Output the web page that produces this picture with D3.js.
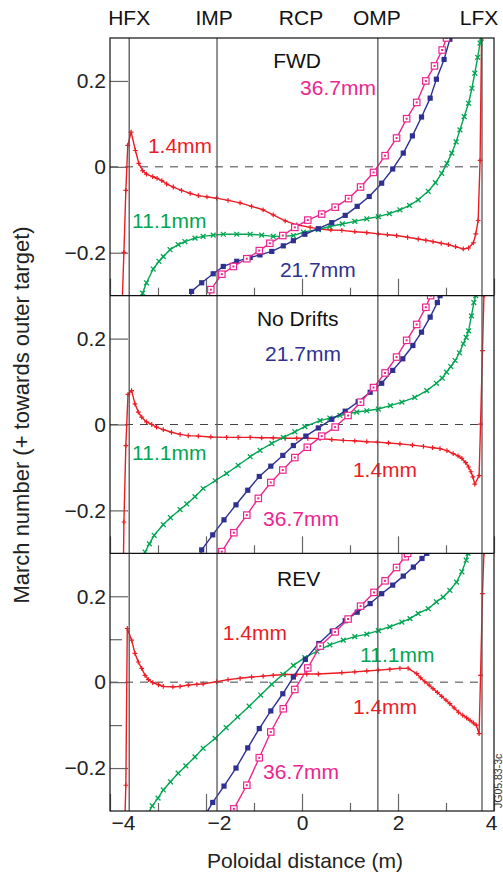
<!DOCTYPE html>
<html>
<head>
<meta charset="utf-8">
<script src="https://cdn.jsdelivr.net/npm/d3@7"></script>
<style>
  body { margin: 0; background: #fff; }
  svg { font-family: 'Liberation Sans', Arial, Helvetica, sans-serif; }
</style>
</head>
<body>
<div class="chart-container"></div>
<script>
// Data: [poloidal distance (m), Mach number].
const fwdRed = [[-3.75,-0.33],[-3.71,-0.199],[-3.67,-0.055],[-3.63,0.05],[-3.56,0.081],[-3.47,0.038],[-3.40,0.008],[-3.32,-0.009],[-3.24,-0.017],[-3.11,-0.023],[-3.02,-0.027],[-2.92,-0.032],[-2.82,-0.04],[-2.68,-0.047],[-2.51,-0.055],[-2.33,-0.062],[-2.16,-0.067],[-1.98,-0.07],[-1.78,-0.073],[-1.54,-0.078],[-1.29,-0.084],[-1.05,-0.092],[-0.81,-0.1],[-0.6,-0.112],[-0.35,-0.126],[-0.11,-0.135],[0.17,-0.141],[0.375,-0.145],[0.6,-0.147],[0.83,-0.148],[1.1,-0.151],[1.35,-0.153],[1.59,-0.156],[1.78,-0.158],[1.97,-0.16],[2.2,-0.164],[2.42,-0.168],[2.58,-0.171],[2.73,-0.174],[2.9,-0.178],[3.05,-0.181],[3.2,-0.186],[3.36,-0.191],[3.47,-0.189],[3.57,-0.177],[3.62,-0.156],[3.67,-0.125],[3.71,0.015],[3.74,0.295],[3.75,0.33]];
const fwdGreen = [[-3.36,-0.31],[-3.32,-0.294],[-3.24,-0.27],[-3.1,-0.238],[-2.98,-0.22],[-2.89,-0.209],[-2.75,-0.193],[-2.58,-0.181],[-2.44,-0.174],[-2.23,-0.166],[-2.06,-0.162],[-1.85,-0.159],[-1.64,-0.157],[-1.36,-0.157],[-1.08,-0.157],[-0.84,-0.159],[-0.6,-0.162],[-0.39,-0.162],[-0.18,-0.16],[0.03,-0.152],[0.34,-0.146],[0.58,-0.139],[0.84,-0.133],[1.1,-0.127],[1.35,-0.121],[1.59,-0.116],[1.82,-0.109],[2.04,-0.1],[2.24,-0.09],[2.42,-0.077],[2.63,-0.057],[2.78,-0.037],[2.91,-0.015],[3.02,0.008],[3.12,0.032],[3.21,0.058],[3.29,0.086],[3.38,0.117],[3.47,0.148],[3.54,0.183],[3.6,0.218],[3.66,0.255],[3.71,0.288],[3.73,0.31]];
const fwdBlue = [[-2.34,-0.31],[-2.3,-0.29],[-2.09,-0.27],[-1.85,-0.249],[-1.64,-0.232],[-1.36,-0.22],[-1.08,-0.211],[-0.875,-0.205],[-0.63,-0.197],[-0.39,-0.184],[-0.18,-0.172],[0.06,-0.157],[0.34,-0.144],[0.62,-0.13],[0.9,-0.113],[1.15,-0.092],[1.4,-0.069],[1.66,-0.038],[1.89,-0.005],[2.11,0.032],[2.3,0.072],[2.49,0.116],[2.67,0.16],[2.8,0.204],[2.96,0.25],[3.08,0.297],[3.1,0.31]];
const fwdMagenta = [[-1.95,-0.31],[-1.9,-0.286],[-1.67,-0.25],[-1.43,-0.232],[-1.15,-0.214],[-0.89,-0.195],[-0.67,-0.178],[-0.4,-0.16],[-0.15,-0.141],[0.12,-0.124],[0.41,-0.11],[0.69,-0.094],[0.97,-0.074],[1.22,-0.047],[1.49,-0.013],[1.73,0.026],[1.97,0.067],[2.18,0.112],[2.39,0.15],[2.58,0.2],[2.76,0.235],[2.92,0.272],[3.01,0.3],[3.02,0.31]];

const nodRed = [[-3.72,-0.32],[-3.71,-0.227],[-3.67,-0.049],[-3.625,0.07],[-3.55,0.079],[-3.48,0.048],[-3.41,0.029],[-3.34,0.017],[-3.24,0.006],[-3.13,0.0],[-3.03,-0.006],[-2.89,-0.012],[-2.72,-0.018],[-2.54,-0.023],[-2.37,-0.026],[-2.16,-0.027],[-1.9,-0.029],[-1.57,-0.03],[-1.33,-0.03],[-1.08,-0.03],[-0.84,-0.031],[-0.6,-0.031],[-0.35,-0.032],[-0.11,-0.032],[0.12,-0.032],[0.375,-0.033],[0.62,-0.035],[0.86,-0.037],[1.1,-0.038],[1.35,-0.04],[1.57,-0.041],[1.8,-0.043],[2.04,-0.045],[2.3,-0.048],[2.53,-0.051],[2.72,-0.054],[2.875,-0.056],[3.02,-0.061],[3.15,-0.068],[3.25,-0.073],[3.33,-0.079],[3.41,-0.089],[3.47,-0.099],[3.52,-0.11],[3.56,-0.122],[3.6,-0.139],[3.69,-0.119],[3.72,0.001],[3.76,0.172],[3.79,0.3],[3.8,0.33]];
const nodGreen = [[-3.3,-0.31],[-3.27,-0.297],[-3.18,-0.278],[-3.08,-0.258],[-2.89,-0.233],[-2.74,-0.217],[-2.54,-0.198],[-2.4,-0.185],[-2.23,-0.168],[-2.06,-0.149],[-1.81,-0.131],[-1.57,-0.114],[-1.33,-0.095],[-1.08,-0.075],[-0.875,-0.06],[-0.63,-0.044],[-0.39,-0.03],[-0.15,-0.017],[0.06,-0.005],[0.375,0.009],[0.58,0.015],[0.79,0.021],[1.14,0.029],[1.35,0.032],[1.59,0.036],[1.84,0.044],[2.08,0.052],[2.35,0.063],[2.6,0.079],[2.8,0.096],[2.92,0.108],[3.01,0.122],[3.1,0.135],[3.19,0.149],[3.28,0.167],[3.36,0.188],[3.42,0.203],[3.47,0.218],[3.53,0.253],[3.58,0.284],[3.62,0.3],[3.63,0.31]];
const nodBlue = [[-2.12,-0.31],[-2.09,-0.292],[-1.86,-0.257],[-1.625,-0.222],[-1.375,-0.187],[-1.13,-0.153],[-0.89,-0.121],[-0.65,-0.097],[-0.4,-0.072],[-0.18,-0.049],[0.08,-0.027],[0.34,-0.008],[0.62,0.012],[0.9,0.031],[1.17,0.053],[1.42,0.075],[1.66,0.096],[1.89,0.126],[2.1,0.153],[2.31,0.184],[2.49,0.215],[2.67,0.25],[2.82,0.284],[2.875,0.3],[2.9,0.31]];
const nodMagenta = [[-1.7,-0.31],[-1.67,-0.296],[-1.42,-0.252],[-1.15,-0.211],[-0.91,-0.172],[-0.65,-0.135],[-0.4,-0.106],[-0.15,-0.077],[0.11,-0.053],[0.41,-0.027],[0.69,-0.006],[0.96,0.021],[1.22,0.052],[1.49,0.086],[1.73,0.12],[1.97,0.157],[2.18,0.196],[2.39,0.233],[2.58,0.273],[2.68,0.3],[2.7,0.31]];

const revRed = [[-3.69,-0.32],[-3.67,-0.24],[-3.64,0.125],[-3.55,0.098],[-3.48,0.067],[-3.41,0.047],[-3.34,0.032],[-3.27,0.016],[-3.2,0.006],[-3.11,-0.001],[-2.99,-0.006],[-2.89,-0.01],[-2.69,-0.011],[-2.54,-0.01],[-2.37,-0.007],[-2.19,-0.005],[-2.06,-0.004],[-1.78,0.001],[-1.54,0.006],[-1.29,0.009],[-1.05,0.012],[-0.81,0.014],[-0.6,0.016],[-0.35,0.018],[-0.11,0.018],[0.1,0.019],[0.34,0.019],[0.83,0.022],[1.1,0.024],[1.35,0.026],[1.59,0.028],[1.83,0.03],[2.04,0.032],[2.21,0.032],[2.39,0.02],[2.47,0.01],[2.56,0.001],[2.65,-0.007],[2.73,-0.015],[2.82,-0.024],[2.91,-0.033],[3.0,-0.042],[3.08,-0.05],[3.17,-0.06],[3.26,-0.07],[3.35,-0.077],[3.43,-0.083],[3.5,-0.089],[3.57,-0.095],[3.63,-0.1],[3.69,-0.12],[3.72,0.016],[3.76,0.206],[3.79,0.3],[3.8,0.33]];
const revGreen = [[-3.2,-0.305],[-3.12,-0.288],[-3.0,-0.27],[-2.89,-0.251],[-2.74,-0.232],[-2.58,-0.212],[-2.42,-0.195],[-2.23,-0.174],[-2.06,-0.154],[-1.81,-0.131],[-1.58,-0.106],[-1.34,-0.081],[-1.1,-0.056],[-0.86,-0.03],[-0.63,-0.005],[-0.4,0.018],[-0.18,0.039],[0.06,0.057],[0.31,0.072],[0.58,0.087],[0.86,0.098],[1.1,0.106],[1.35,0.112],[1.59,0.12],[1.83,0.129],[2.08,0.14],[2.25,0.148],[2.42,0.16],[2.63,0.171],[2.8,0.187],[2.94,0.198],[3.08,0.214],[3.22,0.233],[3.33,0.257],[3.42,0.284],[3.46,0.3],[3.47,0.31]];
const revBlue = [[-2.02,-0.31],[-1.86,-0.28],[-1.625,-0.242],[-1.375,-0.2],[-1.13,-0.153],[-0.89,-0.108],[-0.65,-0.067],[-0.4,-0.027],[-0.18,0.012],[0.07,0.053],[0.35,0.09],[0.63,0.119],[0.9,0.143],[1.15,0.163],[1.42,0.183],[1.66,0.206],[1.89,0.226],[2.11,0.247],[2.32,0.268],[2.5,0.288],[2.6,0.3],[2.62,0.31]];
const revMagenta = [[-1.44,-0.31],[-1.42,-0.295],[-1.15,-0.24],[-0.89,-0.176],[-0.65,-0.116],[-0.39,-0.062],[-0.15,-0.017],[0.12,0.033],[0.38,0.084],[0.69,0.117],[0.96,0.147],[1.22,0.177],[1.5,0.209],[1.73,0.236],[1.97,0.267],[2.15,0.292],[2.2,0.3],[2.22,0.31]];

const panelNames = ['FWD', 'No Drifts', 'REV'];
const seriesNames = ['1.4mm', '11.1mm', '21.7mm', '36.7mm'];
const panelSeries = [
  [fwdRed, fwdGreen, fwdBlue, fwdMagenta],
  [nodRed, nodGreen, nodBlue, nodMagenta],
  [revRed, revGreen, revBlue, revMagenta]
];

// In-plot annotations: [text, series index (-1 = panel title), x (m), Mach].
const panelLabels = [
  [['FWD', -1, -0.60, 0.230], ['36.7mm', 3, -0.04, 0.167], ['1.4mm', 0, -3.21, 0.033], ['11.1mm', 1, -3.54, -0.142], ['21.7mm', 2, -0.46, -0.256]],
  [['No Drifts', -1, -0.94, 0.230], ['21.7mm', 2, -0.77, 0.148], ['11.1mm', 1, -3.54, -0.082], ['1.4mm', 0, 1.06, -0.122], ['36.7mm', 3, -0.81, -0.236]],
  [['REV', -1, -0.52, 0.224], ['1.4mm', 0, -1.65, 0.098], ['11.1mm', 1, 1.21, 0.047], ['1.4mm', 0, 1.06, -0.074], ['36.7mm', 3, -0.81, -0.225]]
];

const locationNames = ['HFX', 'IMP', 'RCP', 'OMP', 'LFX'];
const locationLabelX = [-3.6, -1.83, -0.02, 1.56, 3.69];
const locationLines = [-3.6, -1.77, 1.58, 3.75];

const xTicks = [-4, -2, 0, 2, 4];
const xMinorTicks = [-3, -1, 1, 3];
const yTicks = [-0.2, 0, 0.2];
const yMinorTicks = [-0.1, 0.1];

// Layout.
const width = 503;
const height = 875;
const margin = {top: 38, right: 9, bottom: 64, left: 110};
const plotW = width - margin.left - margin.right;
const plotH = height - margin.top - margin.bottom;
const panelH = plotH / 3;

const colors = ['#ed1c24', '#00a651', '#2e3192', '#ec268f'];
const textFont = 21;

// Scales.
const xScale = d3.scaleLinear().domain([-4, 4]).range([margin.left, margin.left + plotW]);
const yScales = panelNames.map((d, i) => d3.scaleLinear()
  .domain([-0.3, 0.3])
  .range([margin.top + (i + 1) * panelH, margin.top + i * panelH]));

// Draw base.
const svg = d3.select('.chart-container')
  .append('svg')
  .attr('width', width)
  .attr('height', height);

const defs = svg.append('defs');

// Marker shapes.
function drawMarker(g, k) {
  const c = colors[k];
  if (k === 0) {
    g.append('path').attr('d', 'M-2.4,0H2.4M0,-2.4V2.4').attr('stroke', c).attr('stroke-width', 1.2);
  } else if (k === 1) {
    g.append('path').attr('d', 'M-2.4,-2.4L2.4,2.4M-2.4,2.4L2.4,-2.4').attr('stroke', c).attr('stroke-width', 1.3);
  } else if (k === 2) {
    g.append('rect').attr('x', -2.6).attr('y', -2.6).attr('width', 5.2).attr('height', 5.2).attr('fill', c);
  } else {
    g.append('rect').attr('x', -3.2).attr('y', -3.2).attr('width', 6.4).attr('height', 6.4)
      .attr('fill', '#fff').attr('stroke', c).attr('stroke-width', 1.2);
    g.append('rect').attr('x', -1).attr('y', -1).attr('width', 2).attr('height', 2).attr('fill', c);
  }
}

panelNames.forEach((name, i) => {
  const yScale = yScales[i];
  const top = margin.top + i * panelH;

  defs.append('clipPath')
    .attr('id', `clip-${i}`)
    .append('rect')
    .attr('x', margin.left)
    .attr('y', top)
    .attr('width', plotW)
    .attr('height', panelH);

  const panel = svg.append('g').attr('class', 'panel');

  // Zero line.
  panel.append('line')
    .attr('x1', xScale(-4))
    .attr('x2', xScale(3.75))
    .attr('y1', yScale(0))
    .attr('y2', yScale(0))
    .attr('stroke', '#444')
    .attr('stroke-width', 1)
    .attr('stroke-dasharray', '8,7');

  // Axes.
  const yAxis = d3.axisLeft(yScale)
    .tickValues(yTicks)
    .tickSizeInner(-18)
    .tickSizeOuter(0)
    .tickPadding(4)
    .tickFormat(d => d === 0 ? '0' : d3.format('.1f')(d));

  const yAxisDraw = panel.append('g')
    .attr('class', 'y axis')
    .attr('transform', `translate(${margin.left},0)`)
    .call(yAxis);

  yAxisDraw.select('.domain').remove();
  yAxisDraw.selectAll('line').attr('stroke', '#666').attr('stroke-width', 1.2);
  yAxisDraw.selectAll('text')
    .attr('font-size', textFont)
    .attr('font-family', null)
    .attr('fill', '#222');

  if (i === 2) {
    const yMinor = panel.append('g')
      .attr('transform', `translate(${margin.left},0)`)
      .call(d3.axisLeft(yScale).tickValues(yMinorTicks).tickSizeInner(-12).tickSizeOuter(0).tickFormat(''));
    yMinor.select('.domain').remove();
    yMinor.selectAll('line').attr('stroke', '#666').attr('stroke-width', 1.2);
  }

  const bottom = margin.top + (i + 1) * panelH;
  const xMajor = panel.append('g')
    .attr('class', 'x axis')
    .attr('transform', `translate(0,${bottom})`)
    .call(d3.axisBottom(xScale).tickValues(xTicks).tickSizeInner(-17).tickSizeOuter(0).tickPadding(4)
      .tickFormat(i === 2 ? d3.format('') : ''));
  xMajor.select('.domain').remove();
  xMajor.selectAll('line').attr('stroke', '#666').attr('stroke-width', 1.2);
  xMajor.selectAll('text')
    .attr('font-size', textFont)
    .attr('font-family', null)
    .attr('fill', '#222')
    .attr('text-anchor', d => d < 0 ? 'start' : 'middle')
    .attr('dx', d => d === 4 ? -3 : (d < 0 ? 1 : 0));

  const xMinor = panel.append('g')
    .attr('transform', `translate(0,${bottom})`)
    .call(d3.axisBottom(xScale).tickValues(xMinorTicks).tickSizeInner(-8).tickSizeOuter(0).tickFormat(''));
  xMinor.select('.domain').remove();
  xMinor.selectAll('line').attr('stroke', '#666').attr('stroke-width', 1.2);

  // Curves.
  const line = d3.line()
    .x(d => xScale(d[0]))
    .y(d => yScale(d[1]));

  const curves = panel.append('g').attr('clip-path', `url(#clip-${i})`);

  panelSeries[i].forEach((series, k) => {
    curves.append('path')
      .datum(series)
      .attr('d', line)
      .attr('fill', 'none')
      .attr('stroke', colors[k])
      .attr('stroke-width', 1.4)
      .attr('stroke-linejoin', 'round');

    curves.selectAll(`.marker-${k}`)
      .data(series)
      .enter()
      .append('g')
      .attr('class', `marker-${k}`)
      .attr('transform', d => `translate(${xScale(d[0])},${yScale(d[1])})`)
      .each(function() { drawMarker(d3.select(this), k); });
  });

  // Labels.
  panel.selectAll('.label')
    .data(panelLabels[i])
    .enter()
    .append('text')
    .attr('class', 'label')
    .attr('x', d => xScale(d[2]))
    .attr('y', d => yScale(d[3]))
    .attr('font-size', textFont)
    .attr('fill', d => d[1] < 0 ? '#111' : colors[d[1]])
    .text(d => d[0]);
});

// Location lines.
svg.append('g')
  .selectAll('line')
  .data(locationLines)
  .enter()
  .append('line')
  .attr('x1', d => xScale(d))
  .attr('x2', d => xScale(d))
  .attr('y1', margin.top)
  .attr('y2', margin.top + plotH)
  .attr('stroke', '#555')
  .attr('stroke-width', 1.3);

// Frame and panel dividers.
svg.append('rect')
  .attr('x', margin.left)
  .attr('y', margin.top)
  .attr('width', plotW)
  .attr('height', plotH)
  .attr('fill', 'none')
  .attr('stroke', '#111')
  .attr('stroke-width', 1.2);

svg.append('g')
  .selectAll('line')
  .data([1, 2])
  .enter()
  .append('line')
  .attr('x1', margin.left)
  .attr('x2', margin.left + plotW)
  .attr('y1', d => margin.top + d * panelH)
  .attr('y2', d => margin.top + d * panelH)
  .attr('stroke', '#111')
  .attr('stroke-width', 1.2);

// Location names.
svg.append('g')
  .selectAll('text')
  .data(locationNames)
  .enter()
  .append('text')
  .attr('x', (d, i) => xScale(locationLabelX[i]))
  .attr('y', 25)
  .attr('text-anchor', 'middle')
  .attr('font-size', textFont)
  .attr('fill', '#111')
  .text(d => d);

// Axis titles.
svg.append('text')
  .attr('x', 305)
  .attr('y', 868)
  .attr('text-anchor', 'middle')
  .attr('font-size', textFont)
  .attr('fill', '#222')
  .text('Poloidal distance (m)');

svg.append('text')
  .attr('transform', 'translate(29,415) rotate(-90)')
  .attr('text-anchor', 'middle')
  .attr('font-size', 22)
  .attr('fill', '#222')
  .text('March number (+ towards outer target)');

svg.append('text')
  .attr('transform', 'translate(502,808) rotate(-90)')
  .attr('font-size', 10.5)
  .attr('fill', '#333')
  .text('JG05.83-3c');
</script>
</body>
</html>
